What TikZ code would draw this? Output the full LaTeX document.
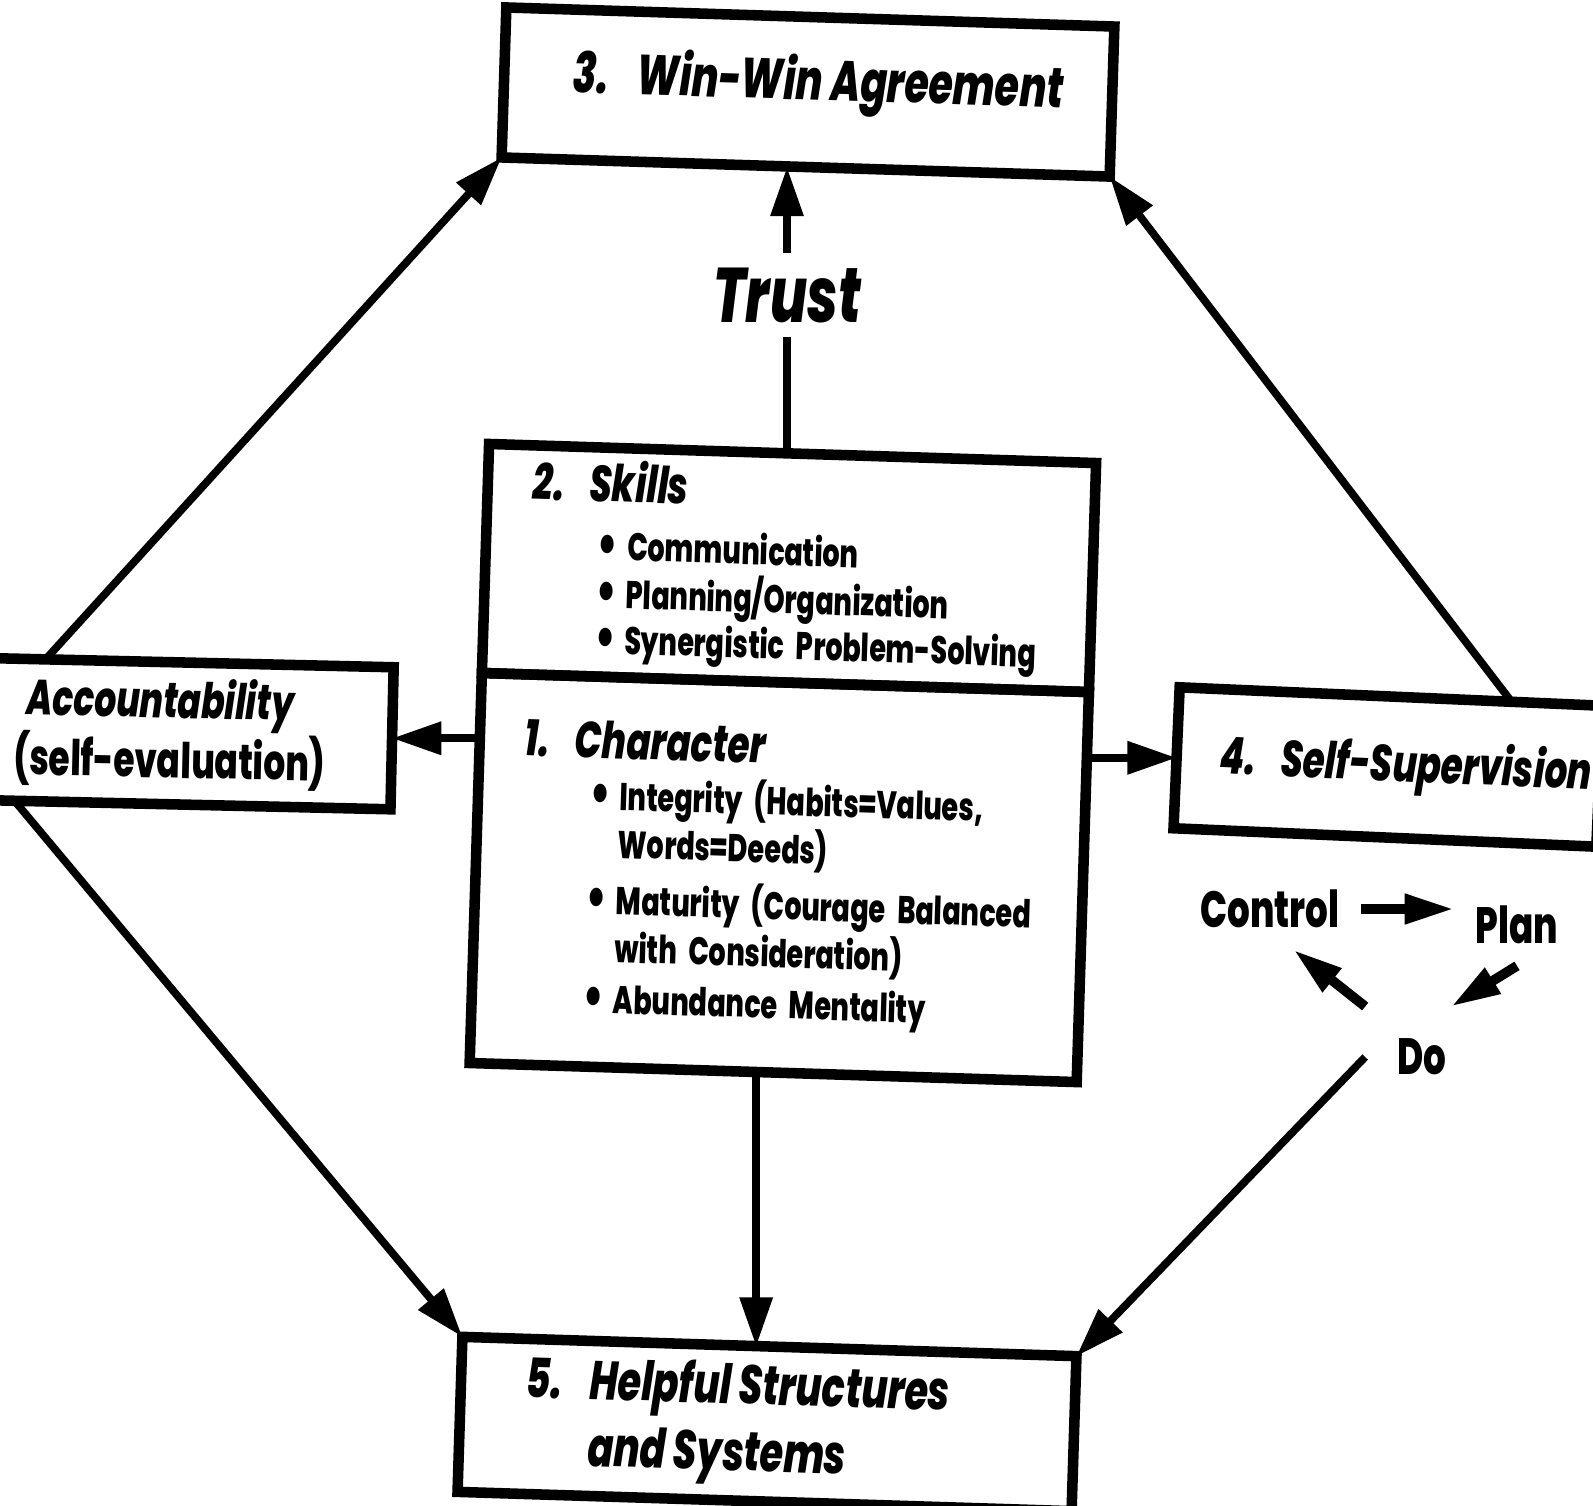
\documentclass[tikz,border=0pt]{standalone}
\usepackage{fontspec}
\setmainfont{Poppins}[FakeStretch=0.7, BoldFont={Poppins ExtraBold}, BoldItalicFont={Poppins ExtraBold Italic}]
\usetikzlibrary{positioning,calc,arrows.meta}
\hyphenpenalty=10000
\exhyphenpenalty=10000

\tikzset{
  box/.style={draw, line width=3pt, rotate=-1.8, inner sep=0pt, outer sep=0pt},
  link/.style={line width=2.2pt, -{Triangle[length=14pt,width=9pt]}},
  cyc/.style={line width=2.8pt, -{Triangle[length=14pt,width=8pt]}},
  step label/.style={font=\fontsize{14.5}{17}\selectfont\bfseries, inner sep=6pt},
}
\newcommand{\headtxt}{\fontsize{14.5}{17}\selectfont\bfseries\itshape}
\newcommand{\itemtxt}{\fontsize{11}{13.6}\selectfont\bfseries\upshape}
\newcommand{\bul}{\hspace*{0.88cm}\makebox[0.3cm][l]{\raisebox{-0.15ex}{\scalebox{1.5}{\textbullet}}}}
\newcommand{\cont}{\hspace*{1.18cm}}

\begin{document}
\begin{tikzpicture}[x=0.01cm, y=-0.01cm]
  \useasboundingbox (0,0) rectangle (1593,1505);

  % the five boxes
  \node[box, minimum width=6.08cm, minimum height=1.5cm, text depth=0.3cm,
        font=\fontsize{16}{19}\selectfont\bfseries\itshape] (win) at (808,92)
        {\hspace*{0.2cm}3.\enspace Win-Win Agreement};
  \node[box, minimum width=6.07cm, minimum height=2.29cm, text width=5.6cm, align=left] (skills) at (789,568)
        {\headtxt\hspace*{0.22cm}2.\enspace Skills\\[3pt]
         \itemtxt\bul Communication\\
         \itemtxt\bul Planning/Organization\\
         \itemtxt\bul Synergistic Problem-Solving};
  \node[box, minimum width=6.07cm, minimum height=3.9cm, text width=5.6cm, align=left, below=0pt of skills] (character)
        {\headtxt\hspace*{0.22cm}1.\enspace Character\\[1pt]
         \itemtxt\bul Integrity (Habits=Values,\\
         \itemtxt\cont Words=Deeds)\\[2.5pt]
         \itemtxt\bul Maturity (Courage Balanced\\
         \itemtxt\cont with Consideration)\\[2.5pt]
         \itemtxt\bul Abundance Mentality};
  \node[box, rotate=0.5, minimum width=4.64cm, minimum height=1.42cm, align=left,
        font=\fontsize{14}{17}\selectfont\bfseries] (acct) at (160,733)
        {\hspace*{0.32cm}\itshape Accountability\\\hspace*{0.2cm}(self-evaluation)};
  \node[box, rotate=-0.7, minimum width=4.23cm, minimum height=1.41cm,
        font=\fontsize{14.5}{17}\selectfont\bfseries\itshape] (selfsup) at (1388,767)
        {\hspace*{0.36cm}4.\enspace Self-Supervision};
  \node[box, minimum width=6.14cm, minimum height=1.55cm, align=left,
        font=\fontsize{15.5}{19}\selectfont\bfseries\itshape] (helpful) at (767,1424)
        {5.\enspace Helpful Structures\hspace*{0.6cm}\\\phantom{5.}\enspace and Systems};

  % trust between skills and agreement
  \node[font=\fontsize{22}{26}\selectfont\bfseries\itshape, inner sep=4pt] (trust) at (787,295) {Trust};

  % plan - do - control cycle
  \node[step label] (control) at (1270,909) {Control};
  \node[step label] (plan) at (1517,925) {Plan};
  \node[step label, inner sep=9pt] (do) at (1422,1057) {Do};

  % anchor points on the box edges
  \coordinate (acctTop) at ($(acct.north west)!0.25!(acct.north east)$);
  \coordinate (acctBot) at ($(acct.south west)!0.19!(acct.south east)$);
  \coordinate (supTop) at ($(selfsup.north west)!0.785!(selfsup.north east)$);
  \coordinate (charBot) at ($(character.south west)!0.472!(character.south east)$);

  % connectors
  \draw[line width=2.2pt] (trust.south) -- (trust.south |- skills.north);
  \draw[link] (trust.north) -- (trust.north |- win.south);
  \draw[link] (acctTop) -- (win.south west);
  \draw[link] (supTop) -- (win.south east);
  \draw[link] (acctBot) -- (helpful.north west);
  \draw[link] (do.west) -- (helpful.north east);
  \draw[link] (charBot) -- (charBot |- helpful.north);
  \draw[link] (acct.east -| character.west) -- (acct.east);
  \draw[link] (selfsup.west -| character.east) -- (selfsup.west);
  \draw[cyc] (control.east) -- (control.east -| plan.west);
  \draw[cyc] (plan.south) -- (do.60);
  \draw[cyc] (do.north west) -- (control.-60);
\end{tikzpicture}
\end{document}
